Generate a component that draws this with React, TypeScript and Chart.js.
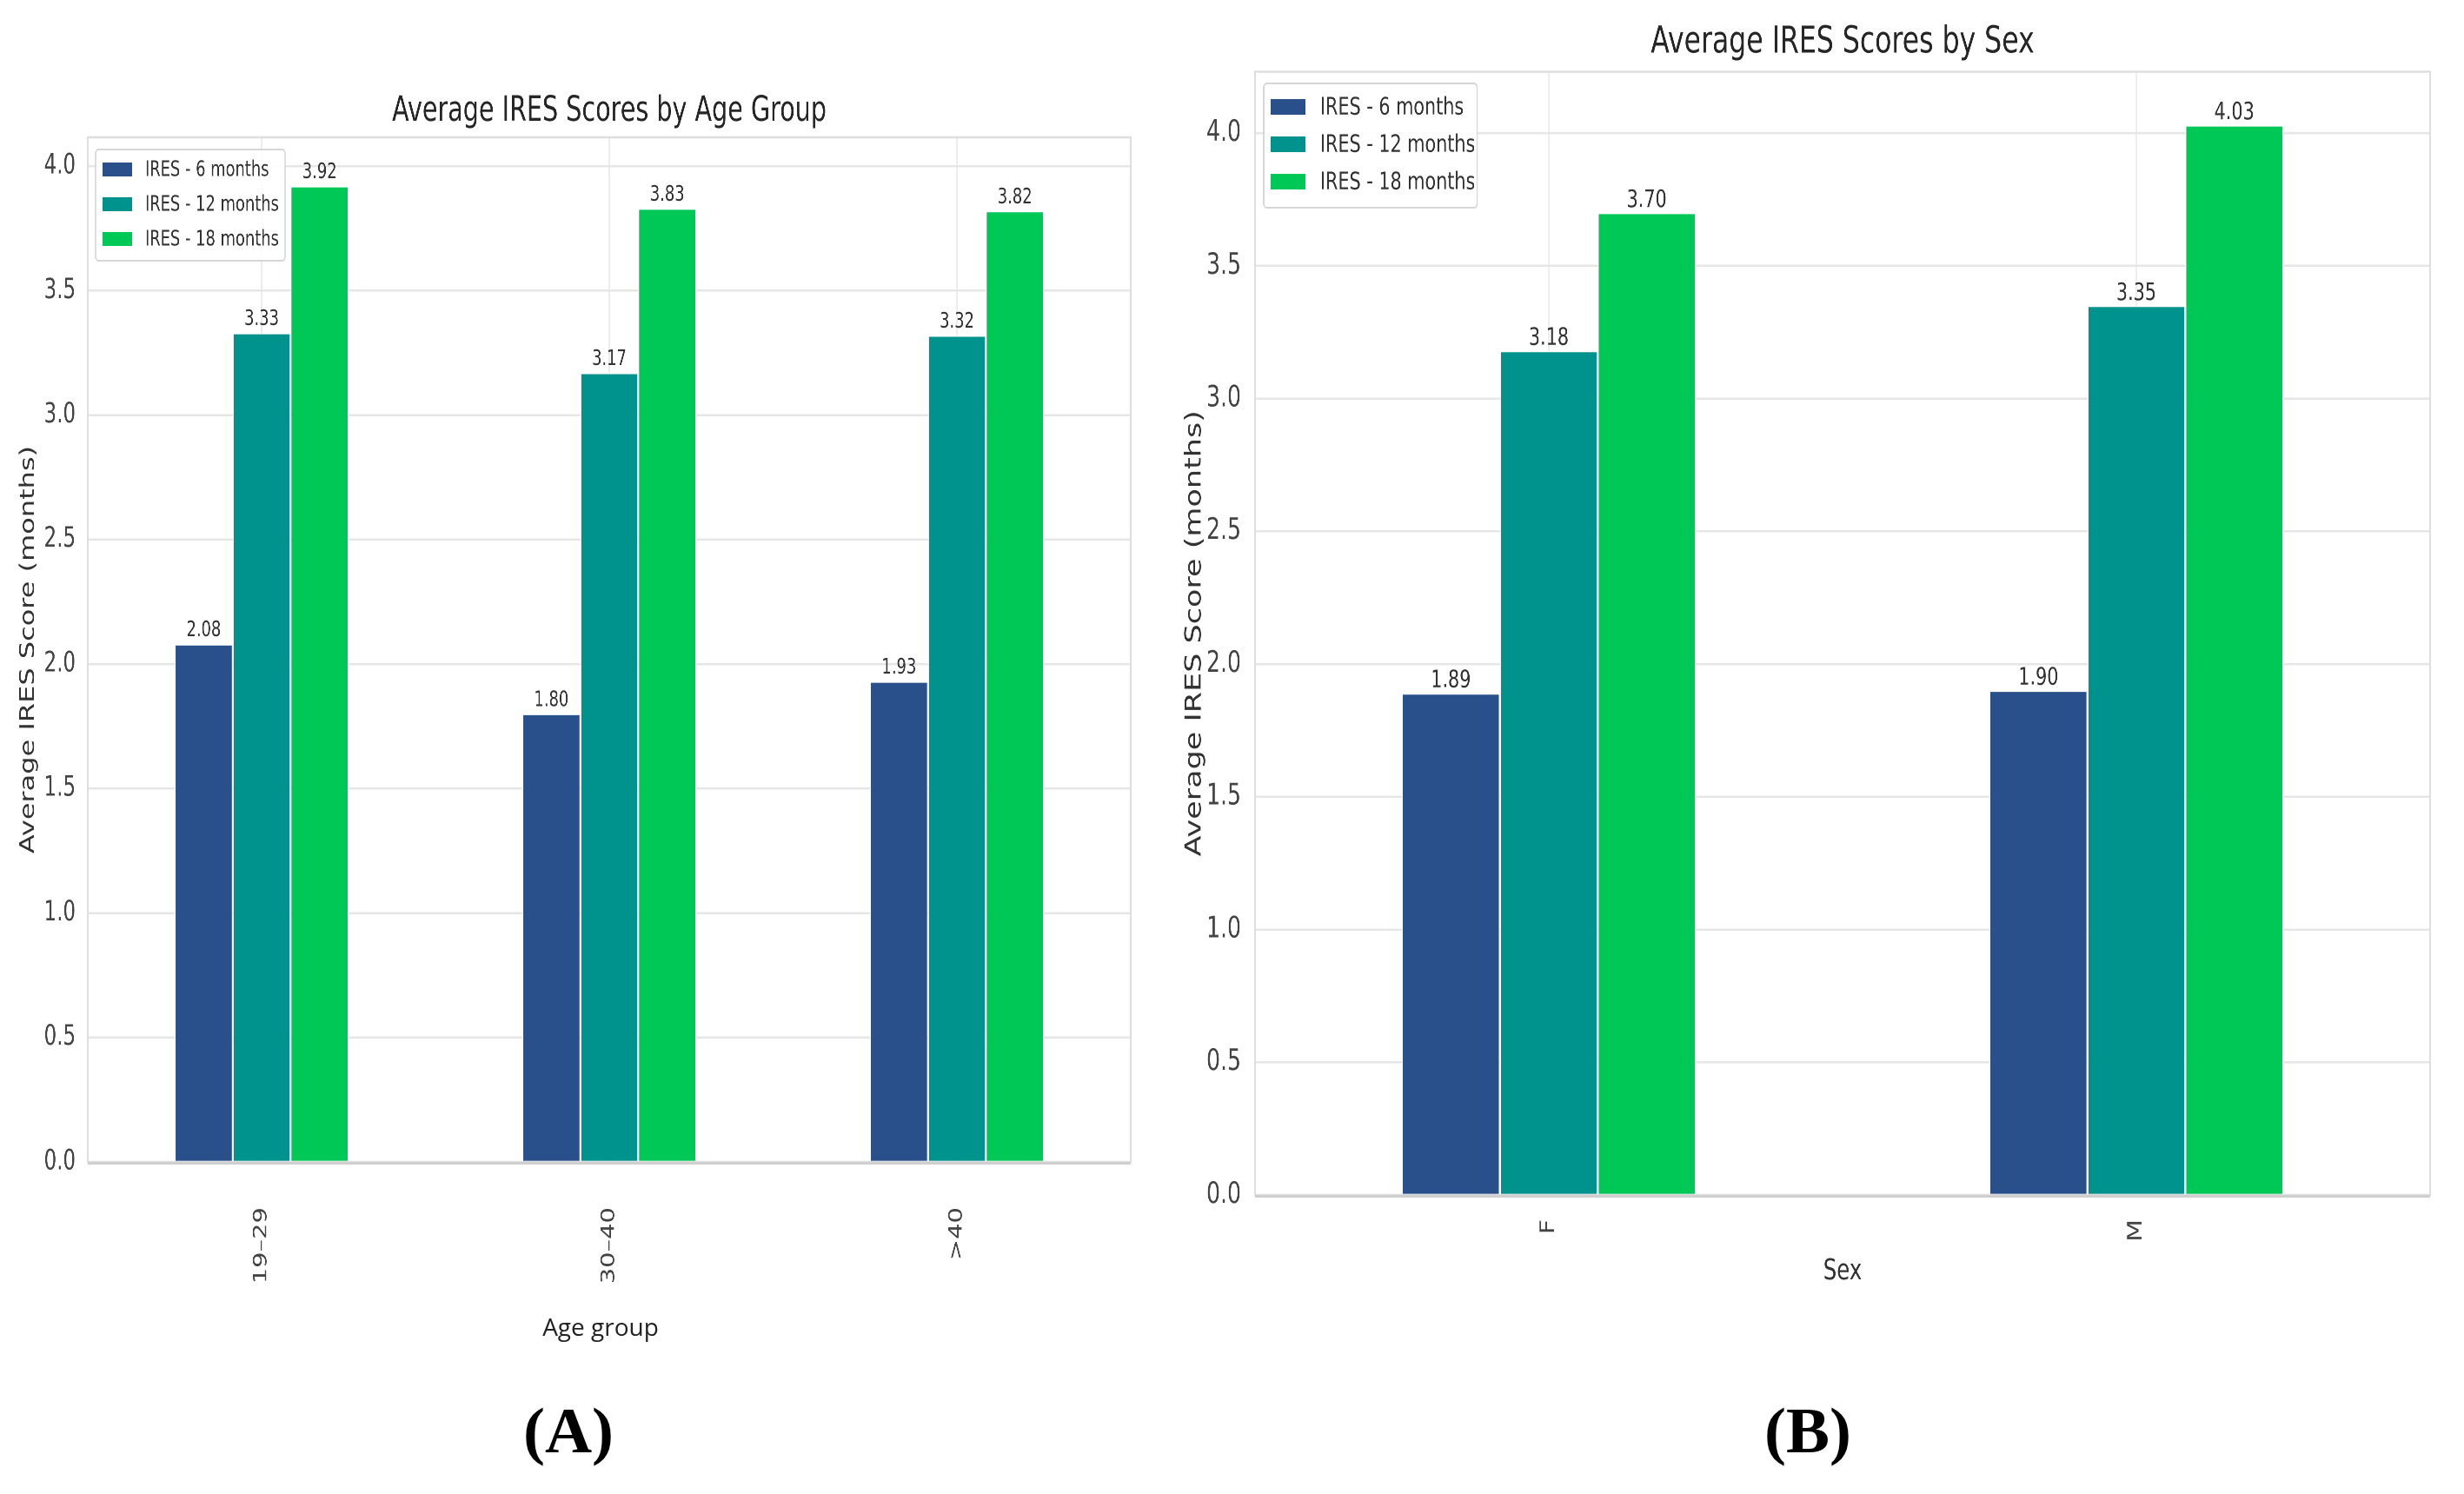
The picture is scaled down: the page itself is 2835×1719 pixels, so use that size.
import React, { useEffect, useRef } from "react";
import { Chart, registerables } from "chart.js";

Chart.register(...registerables);

// ---------------- data ----------------
const seriesLabels = ["IRES - 6 months", "IRES - 12 months", "IRES - 18 months"];
const seriesColors = ["#29508A", "#00928D", "#00C857"];

const ageGroups = ["19–29", "30–40", ">40"];
const ageIres6 = [2.08, 1.8, 1.93];
const ageIres12 = [3.33, 3.17, 3.32];
const ageIres18 = [3.92, 3.83, 3.82];

const sexGroups = ["F", "M"];
const sexIres6 = [1.89, 1.9];
const sexIres12 = [3.18, 3.35];
const sexIres18 = [3.7, 4.03];

const yTickStep = 0.5;

const titleA = "Average IRES Scores by Age Group";
const titleB = "Average IRES Scores by Sex";
const yTitle = "Average IRES Score (months)";
const xTitleA = "Age group";
const xTitleB = "Sex";

const FONT = "'DejaVu Sans', 'Noto Sans', sans-serif";

// ---------------- plugins ----------------
const framePlugin = {
  id: "frame",
  beforeDatasetsDraw(chart: any, _a: any, o: any) {
    const { ctx, chartArea: a } = chart;
    ctx.save();
    ctx.strokeStyle = o.color;
    ctx.lineWidth = o.width;
    ctx.strokeRect(a.left, a.top, a.right - a.left, a.bottom - a.top);
    ctx.restore();
  },
  afterDatasetsDraw(chart: any, _a: any, o: any) {
    const { ctx, chartArea: a } = chart;
    ctx.save();
    ctx.strokeStyle = o.axisColor;
    ctx.lineWidth = o.axisWidth;
    ctx.beginPath();
    ctx.moveTo(a.left, a.bottom + o.axisWidth / 2);
    ctx.lineTo(a.right, a.bottom + o.axisWidth / 2);
    ctx.stroke();
    ctx.restore();
  },
};

const valueLabelPlugin = {
  id: "valueLabels",
  afterDatasetsDraw(chart: any, _a: any, o: any) {
    const { ctx } = chart;
    ctx.save();
    ctx.font = `${o.size}px ${FONT}`;
    ctx.fillStyle = o.color;
    ctx.textAlign = "center";
    ctx.textBaseline = "alphabetic";
    chart.data.datasets.forEach((ds: any, i: number) => {
      const meta = chart.getDatasetMeta(i);
      meta.data.forEach((bar: any, j: number) => {
        ctx.fillText(Number(ds.data[j]).toFixed(2), bar.x, bar.y - o.gap);
      });
    });
    ctx.restore();
  },
};

const innerLegendPlugin = {
  id: "innerLegend",
  afterDraw(chart: any, _a: any, o: any) {
    const { ctx, chartArea: a } = chart;
    const x0 = a.left + o.dx;
    const y0 = a.top + o.dy;
    ctx.save();
    ctx.beginPath();
    if (ctx.roundRect) ctx.roundRect(x0, y0, o.w, o.h, 5);
    else ctx.rect(x0, y0, o.w, o.h);
    ctx.fillStyle = "rgba(255,255,255,0.9)";
    ctx.fill();
    ctx.strokeStyle = "#d6d6d6";
    ctx.lineWidth = 2;
    ctx.stroke();
    ctx.font = `${o.size}px ${FONT}`;
    ctx.textBaseline = "middle";
    ctx.textAlign = "left";
    chart.data.datasets.forEach((ds: any, i: number) => {
      const cy = y0 + o.rows[i];
      ctx.fillStyle = ds.backgroundColor;
      ctx.fillRect(x0 + o.patchX, cy - o.patchH / 2, o.patchW, o.patchH);
      ctx.fillStyle = "#333333";
      ctx.fillText(ds.label, x0 + o.textX, cy + 1);
    });
    ctx.restore();
  },
};

// ---------------- panel layout (styling only) ----------------
type PanelCfg = {
  key: string;
  title: string;
  categories: string[];
  series: number[][];
  xTitle: string | null;
  pageX: number;
  squeeze: number;
  canvasW: number;
  canvasH: number;
  yAxisW: number;
  xAxisH: number;
  rightPad: number;
  titleSize: number;
  titlePadTop: number;
  titlePadBottom: number;
  tickSize: number;
  tickPad: number;
  xTickSize: number;
  xTickPad: number;
  yTitleSize: number;
  yTitlePad: number;
  xTitleSize: number;
  xTitlePad: number;
  labelSize: number;
  labelGap: number;
  legend: any;
};

const panelA: PanelCfg = {
  key: "A",
  title: titleA,
  categories: ageGroups,
  series: [ageIres6, ageIres12, ageIres18],
  xTitle: null,
  pageX: 0,
  squeeze: 0.715,
  canvasW: 1874,
  canvasH: 1600,
  yAxisW: 141.3,
  xAxisH: 263,
  rightPad: 54.4,
  titleSize: 40,
  titlePadTop: 104.5,
  titlePadBottom: 5.5,
  tickSize: 32,
  tickPad: 19.6,
  xTickSize: 29,
  xTickPad: 52,
  yTitleSize: 32,
  yTitlePad: 27,
  xTitleSize: 33,
  xTitlePad: 0,
  labelSize: 25,
  labelGap: 9,
  legend: { dx: 12.5, dy: 14, w: 305, h: 128, patchX: 11.2, patchW: 47.5, patchH: 16, rows: [23, 63, 103], textX: 79.7, size: 25 },
};

const panelB: PanelCfg = {
  key: "B",
  title: titleB,
  categories: sexGroups,
  series: [sexIres6, sexIres12, sexIres18],
  xTitle: xTitleB,
  pageX: 1340,
  squeeze: 0.74,
  canvasW: 2020,
  canvasH: 1500,
  yAxisW: 140.5,
  xAxisH: 125,
  rightPad: 52.4,
  titleSize: 42.6,
  titlePadTop: 24,
  titlePadBottom: 7.4,
  tickSize: 34,
  tickPad: 21.6,
  xTickSize: 30,
  xTickPad: 28,
  yTitleSize: 35,
  yTitlePad: 26,
  xTitleSize: 33,
  xTitlePad: 17,
  labelSize: 28,
  labelGap: 7,
  legend: { dx: 13.5, dy: 13.5, w: 332, h: 143, patchX: 10.8, patchW: 54, patchH: 18, rows: [27, 70, 113], textX: 87.8, size: 28 },
};

function buildConfig(p: PanelCfg): any {
  const all = p.series.flat();
  const yMax = Math.max(...all) * 1.05;
  return {
    type: "bar",
    data: {
      labels: p.categories,
      datasets: p.series.map((vals, i) => ({
        label: seriesLabels[i],
        data: vals,
        backgroundColor: seriesColors[i],
        borderColor: "rgba(255,255,255,0.85)",
        borderWidth: 1.5,
        categoryPercentage: 0.5,
        barPercentage: 1.0,
      })),
    },
    plugins: [framePlugin, valueLabelPlugin, innerLegendPlugin],
    options: {
      responsive: false,
      animation: false,
      devicePixelRatio: 2,
      layout: { padding: { left: 0, top: 0, bottom: 0, right: p.rightPad } },
      plugins: {
        legend: { display: false },
        tooltip: { enabled: false },
        title: {
          display: true,
          text: p.title,
          fullSize: false,
          color: "#262626",
          font: { family: FONT, size: p.titleSize, weight: "normal", lineHeight: 1.2 },
          padding: { top: p.titlePadTop, bottom: p.titlePadBottom },
        },
        frame: { color: "#dedede", width: 2.5, axisColor: "#cfcfcf", axisWidth: 3 },
        valueLabels: { size: p.labelSize, gap: p.labelGap, color: "#333333" },
        innerLegend: p.legend,
      },
      scales: {
        x: {
          type: "category",
          offset: true,
          grid: { offset: false, color: "#ebebeb", lineWidth: 2, drawTicks: false },
          border: { display: false },
          ticks: {
            minRotation: 90,
            maxRotation: 90,
            autoSkip: false,
            padding: p.xTickPad,
            color: "#444444",
            font: { family: FONT, size: p.xTickSize },
          },
          title: {
            display: !!p.xTitle,
            text: p.xTitle || "",
            color: "#333333",
            font: { family: FONT, size: p.xTitleSize, lineHeight: 1.2 },
            padding: { top: 0, bottom: p.xTitlePad },
          },
          afterFit: (s: any) => {
            s.height = p.xAxisH;
          },
        },
        y: {
          type: "linear",
          min: 0,
          max: yMax,
          grid: { color: "#e6e6e6", lineWidth: 2.5, drawTicks: false },
          border: { display: false },
          ticks: {
            stepSize: yTickStep,
            includeBounds: false,
            padding: p.tickPad,
            color: "#444444",
            font: { family: FONT, size: p.tickSize },
            callback: (v: any) => Number(v).toFixed(1),
          },
          title: {
            display: true,
            text: yTitle,
            color: "#333333",
            font: { family: FONT, size: p.yTitleSize, lineHeight: 1.2 },
            padding: { top: p.yTitlePad, bottom: 0 },
          },
          afterFit: (s: any) => {
            s.width = p.yAxisW;
          },
        },
      },
    },
  };
}

function PanelChart({ cfg }: { cfg: PanelCfg }) {
  const ref = useRef<HTMLCanvasElement>(null);
  useEffect(() => {
    if (!ref.current) return;
    const chart = new Chart(ref.current, buildConfig(cfg));
    return () => chart.destroy();
  }, [cfg]);
  return (
    <div
      style={{
        position: "absolute",
        left: cfg.pageX,
        top: 0,
        width: cfg.canvasW,
        height: cfg.canvasH,
        transform: `scaleX(${cfg.squeeze})`,
        transformOrigin: "0 0",
      }}
    >
      <canvas
        ref={ref}
        width={cfg.canvasW}
        height={cfg.canvasH}
        style={{ width: cfg.canvasW, height: cfg.canvasH, display: "block" }}
      />
    </div>
  );
}

export default function App() {
  return (
    <div
      style={{
        position: "absolute",
        left: 0,
        top: 0,
        width: 2835,
        height: 1719,
        background: "#ffffff",
        overflow: "hidden",
      }}
    >
      <PanelChart cfg={panelA} />
      <PanelChart cfg={panelB} />
      <div
        style={{
          position: "absolute",
          left: 591,
          top: 1512,
          width: 200,
          textAlign: "center",
          fontFamily: "'Open Sans', 'DejaVu Sans', sans-serif",
          fontSize: 28,
          lineHeight: "28px",
          color: "#222222",
          whiteSpace: "nowrap",
        }}
      >
        {xTitleA}
      </div>
      <div
        style={{
          position: "absolute",
          left: 554,
          top: 1608,
          width: 200,
          textAlign: "center",
          fontFamily: "'Liberation Serif', 'Times New Roman', serif",
          fontWeight: "bold",
          fontSize: 75,
          lineHeight: "75px",
          color: "#000000",
        }}
      >
        (A)
      </div>
      <div
        style={{
          position: "absolute",
          left: 1980,
          top: 1608,
          width: 200,
          textAlign: "center",
          fontFamily: "'Liberation Serif', 'Times New Roman', serif",
          fontWeight: "bold",
          fontSize: 75,
          lineHeight: "75px",
          color: "#000000",
        }}
      >
        (B)
      </div>
    </div>
  );
}
